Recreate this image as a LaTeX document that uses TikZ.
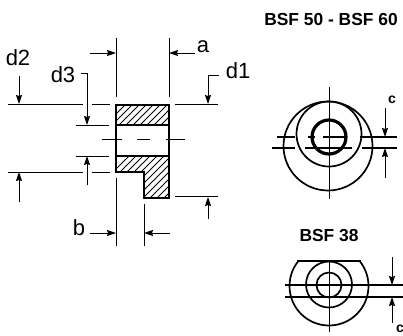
\documentclass[tikz,border=0pt]{standalone}
\usepackage{fontspec}
\setmainfont{Liberation Sans}
\usetikzlibrary{arrows.meta}
\tikzset{
  thin line/.style={line width=1pt,black},
  dimarrow/.style={line width=1pt,-{Stealth[length=9pt,width=6pt,inset=1pt]}},
  outline/.style={line width=2pt,black},
  thickcircle/.style={line width=1.7pt},
  hatchline/.style={line width=0.8pt},
  dimlabel/.style={font=\fontsize{22}{22}\selectfont,inner sep=0pt},
  titlelabel/.style={font=\bfseries\fontsize{17.4}{18}\selectfont,inner sep=0pt},
  clabel/.style={font=\bfseries\fontsize{14}{14}\selectfont,inner sep=0pt}
}
\begin{document}
\begin{tikzpicture}[x=1pt,y=-1pt]
\useasboundingbox (0,0) rectangle (403,335);
\fill[white] (0,0) rectangle (403,335);
% hatching
\begin{scope}
\clip (116,105) rectangle (169,125);
\foreach \i in {0,7,...,90} \draw[hatchline] (\i+100,130) -- (\i+130,100);
\end{scope}
\begin{scope}
\clip (116,156) -- (169,156) -- (169,198) -- (144,198) -- (144,172) -- (116,172) -- cycle;
\foreach \i in {0,7,...,120} \draw[hatchline] (\i+80,205) -- (\i+135,150);
\end{scope}
% part outline
\draw[outline] (116,105) rectangle (169,125);
\draw[outline] (116,125) -- (116,156);
\draw[outline] (169,125) -- (169,156);
\draw[outline,line join=miter] (116,156) -- (169,156) -- (169,198) -- (144,198) -- (144,172) -- (116,172) -- cycle;
% centre line
\draw[thin line] (102,139) -- (122,139) (137,139) -- (150,139) (166,139) -- (185,139);
% extension lines
\draw[thin line] (116,38) -- (116,97) (169,38) -- (169,97);
\draw[thin line] (116,178) -- (116,246) (144,204) -- (144,246);
\draw[thin line] (8,104) -- (83,104) (92,104) -- (110,104) (175,104) -- (218,104);
\draw[thin line] (76,125) -- (109,125) (76,156) -- (109,156);
\draw[thin line] (8,172) -- (83,172) (92,172) -- (110,172) (175,196) -- (218,196);
% dimension arrows
\draw[dimarrow] (90,53) -- (116,53);
\draw[dimarrow] (195,53) -- (169,53);
\draw[dimarrow] (90,233) -- (116,233);
\draw[dimarrow] (170,233) -- (144,233);
\draw[dimarrow] (19,76) -- (19,104);
\draw[dimarrow] (219,75) -- (208,75) -- (208,104);
\draw[dimarrow] (81,73) -- (87,73) -- (87,125);
\draw[dimarrow] (87,185) -- (87,156);
\draw[dimarrow] (19,202) -- (19,172);
\draw[dimarrow] (208,219) -- (208,197);
% labels
\node[dimlabel] (ld2) at (18,58) {d2};
\node[dimlabel] (ld3) at (63,75) {d3};
\node[dimlabel] (la) at (203,47) {a};
\node[dimlabel] (ld1) at (238,71) {d1};
\node[dimlabel] (lb) at (79,228) {b};
\node[titlelabel] (t1) at (331,20) {BSF 50 - BSF 60};
\node[titlelabel] (t2) at (329,236) {BSF 38};
\node[clabel] (c1) at (392,100) {c};
\node[clabel] (c2) at (400,329) {c};
% upper view
\draw[thickcircle] (328,146) circle (44.5);
\draw[thickcircle] (329,134) circle (32.5);
\draw[line width=3.2pt] (329,137) circle (17);
\draw[thin line] (329,87) -- (329,199);
\draw[line width=1.2pt] (277,137) -- (295,137) (308,137) -- (315,137) (323,137) -- (345,137) (360,137) -- (372,137);
\draw[line width=2.2pt] (372,137) -- (397,137);
\draw[line width=1.2pt] (272,148) -- (295,148) (305,148) -- (352,148) (362,148) -- (372,148);
\draw[line width=2.2pt] (372,148) -- (397,148);
\draw[dimarrow] (385,108) -- (385,137);
\draw[dimarrow] (385,178) -- (385,148);
% lower view
\begin{scope}
\clip (280,261) rectangle (380,335);
\draw[thickcircle] (329,286) circle (39.5);
\end{scope}
\draw[line width=1.8pt] (297,261) -- (361,261);
\draw[thickcircle] (329,284.5) circle (23);
\draw[thickcircle] (329,285) circle (12.5);
\draw[thin line] (329,262) -- (329,332);
\draw[line width=2.2pt] (285,285) -- (403,285);
\draw[line width=1.1pt] (285,297) -- (403,297);
\draw[dimarrow] (392,257) -- (392,285);
\draw[dimarrow] (392,323) -- (392,297);
\end{tikzpicture}
\end{document}
